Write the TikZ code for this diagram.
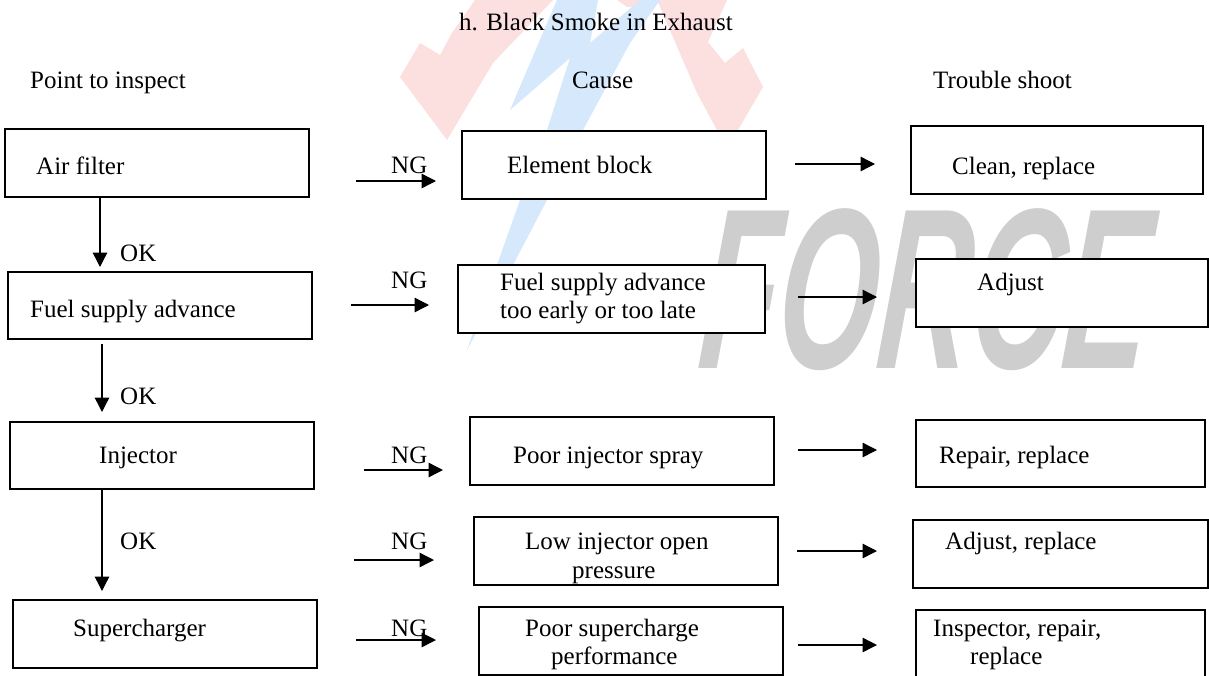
\documentclass[tikz,border=0pt]{standalone}
\usepackage{fontspec}
\setmainfont{Liberation Serif}
\newfontfamily\wmfont{Liberation Sans}
\usetikzlibrary{arrows.meta}
\definecolor{wmred}{RGB}{252,224,224}
\definecolor{wmblue}{RGB}{214,232,252}
\definecolor{wmgray}{RGB}{206,206,206}
\tikzset{
  boxn/.style={draw=black,fill=white,line width=1.4pt,inner sep=0pt},
  lab/.style={anchor=base west,inner sep=0pt,font=\fontsize{25}{29}\selectfont},
  flow/.style={line width=1.4pt,-{Triangle[length=14.5pt,width=14.5pt]}},
}
% name, x1, y1, x2, y2
\newcommand\bxn[5]{\node[boxn,minimum width=#4pt-#2pt,minimum height=#5pt-#3pt] (#1) at ({(#2+#4)/2},{(#3+#5)/2}) {};}
\begin{document}
\begin{tikzpicture}[x=1pt,y=-1pt]
\useasboundingbox (0,0) rectangle (1209,675);
\fill[white] (0,0) rectangle (1209,675);
% watermark
\fill[wmred] (400,77)--(420,43)--(440,55)--(452,33)--(475,0)--(553,0)--(493,63)--(447,140)--cycle;
\fill[wmred] (657,0)--(727,0)--(708,42)--(725,63)--(743,48)--(763,87)--(738,130)--(725,145)--(697,93)--cycle;
\fill[wmred] (617,0)--(660,0)--(652,7)--(627,7)--cycle;
\fill[wmblue] (557,0)--(510,110)--(570,58)--(547,130)--(520,200)--(497,265)--(467,350)--(513,265)--(547,200)--(583,130)--(630,43)--(660,0)--(640,0)--(590,43)--(598,0)--cycle;
\node[anchor=center,inner sep=0pt,text=wmgray,xscale=.56,xslant=.14,font=\wmfont\bfseries\itshape\fontsize{229}{229}\selectfont] (wm) at (927,290) {FORCE};
% boxes
\bxn{air}{5}{129}{309}{197}
\bxn{fuel}{8}{272}{312}{339}
\bxn{inj}{10}{422}{314}{489}
\bxn{sup}{13}{600}{317}{668}
\bxn{elem}{462}{131}{766}{199}
\bxn{fadv}{458}{265}{765}{333}
\bxn{poor}{470}{417}{774}{485}
\bxn{low}{474}{517}{778}{585}
\bxn{psup}{479}{607}{783}{675}
\bxn{clean}{911}{126}{1203}{194}
\bxn{adj}{916}{259}{1208}{327}
\bxn{rep}{916}{420}{1205}{487}
\bxn{adjr}{913}{520}{1208}{588}
\bxn{insp}{916}{610}{1205}{680}
% headings and labels
\node[lab] (ttl) at (459,30) {h. Black Smoke in Exhaust};
\node[lab] (h1) at (30,88) {Point to inspect};
\node[lab] (h2) at (572,88) {Cause};
\node[lab] (h3) at (933,88) {Trouble shoot};
\node[lab] at (36,174) {Air filter};
\node[lab] at (30,317) {Fuel supply advance};
\node[lab] at (99,463) {Injector};
\node[lab] at (73,636) {Supercharger};
\node[lab] at (507,173) {Element block};
\node[lab] at (500,290) {Fuel supply advance};
\node[lab] at (500,318) {too early or too late};
\node[lab] at (513,463) {Poor injector spray};
\node[lab] at (525,549) {Low injector open};
\node[lab] at (572,578) {pressure};
\node[lab] at (525,636) {Poor supercharge};
\node[lab] at (551,664) {performance};
\node[lab] at (952,174) {Clean, replace};
\node[lab] at (977,290) {Adjust};
\node[lab] at (939,463) {Repair, replace};
\node[lab] at (945,549) {Adjust, replace};
\node[lab] at (933,636) {Inspector, repair,};
\node[lab] at (970,664) {replace};
\node[lab] at (391,173) {NG};
\node[lab] at (391,288) {NG};
\node[lab] at (391,463) {NG};
\node[lab] at (391,549) {NG};
\node[lab] at (391,636) {NG};
\node[lab] at (120,261) {OK};
\node[lab] at (120,404) {OK};
\node[lab] at (120,549) {OK};
% free connector ends
\foreach \n/\x/\y in {a1/356/181,a2/436/181,b1/351/305,b2/429/305,c1/364/470,c2/443/470,d1/354/560,d2/434/560,e1/356/640,e2/436/640,
  f1/795/164,f2/875/164,g1/798/297,g2/877/297,h1/798/450,h2/877/450,i1/797/551,i2/877/551,j1/798/645,j2/877/645,
  v1/100/198,v2/100/267,w1/102/344,w2/102/412,u1/102/489,u2/102/591}
  \coordinate (\n) at (\x,\y);
\foreach \p/\q in {a1/a2,b1/b2,c1/c2,d1/d2,e1/e2,f1/f2,g1/g2,h1/h2,i1/i2,j1/j2,v1/v2,w1/w2,u1/u2}
  \draw[flow] (\p) -- (\q);
\end{tikzpicture}
\end{document}
